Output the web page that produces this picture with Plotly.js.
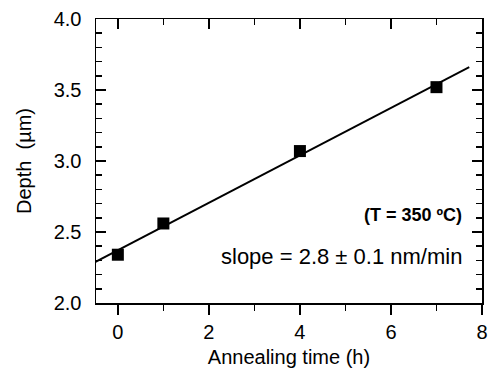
<!DOCTYPE html>
<html>
<head>
<meta charset="utf-8">
<script src="https://cdn.plot.ly/plotly-3.0.1.min.js"></script>
<style>html,body{margin:0;padding:0;background:#fff;}#chart{width:493px;height:371px;}</style>
</head>
<body>
<div id="chart"></div>
<script>
// Data
const annealingTime = [0, 1, 4, 7];          // h
const depth = [2.34, 2.56, 3.07, 3.52];     // µm
const fitRange = [-0.5, 7.72];               // extent of the drawn fit line (h)
const xTickVals = [0, 2, 4, 6, 8];
const yTickVals = [2.0, 2.5, 3.0, 3.5, 4.0];
const tempLabel = '(T = 350 ºC)';
const slopeLabel = 'slope = 2.8 ± 0.1 nm/min';

// least-squares fit of the data
const n = annealingTime.length;
const mx = annealingTime.reduce((a, b) => a + b, 0) / n;
const my = depth.reduce((a, b) => a + b, 0) / n;
let sxy = 0, sxx = 0;
for (let i = 0; i < n; i++) { sxy += (annealingTime[i] - mx) * (depth[i] - my); sxx += (annealingTime[i] - mx) ** 2; }
const slope = sxy / sxx, icpt = my - slope * mx;
const fitX = fitRange;
const fitY = fitRange.map(x => icpt + slope * x);

const font = 'Arial, "Liberation Sans", sans-serif';
const traces = [
  {x: fitX, y: fitY, mode: 'lines', line: {color: '#000', width: 1.8}, hoverinfo: 'skip', showlegend: false},
  {x: annealingTime, y: depth, mode: 'markers', marker: {symbol: 'square', size: 12, color: '#000'}, showlegend: false},
  {x: [0], y: [3], xaxis: 'x2', mode: 'markers', marker: {opacity: 0}, hoverinfo: 'skip', showlegend: false}
];
const xRange = [-0.48, 8];
const layout = {
  width: 493, height: 371,
  margin: {l: 96, r: 11, t: 19, b: 68},
  paper_bgcolor: '#fff', plot_bgcolor: '#fff',
  font: {family: font, color: '#000', size: 20},
  showlegend: false,
  xaxis: {
    range: xRange, showgrid: false, zeroline: false,
    showline: true, linecolor: '#000', linewidth: 1.5, mirror: true,
    ticks: 'outside', ticklen: 10, tickwidth: 1.5, tickcolor: '#000',
    tickvals: xTickVals, ticktext: xTickVals.map(String),
    minor: {dtick: 1, tick0: 0, ticks: 'outside', ticklen: 6, tickwidth: 1.5, tickcolor: '#000', showgrid: false},
    tickfont: {size: 20},
    title: {text: 'Annealing time (h)', font: {size: 20}, standoff: 8}
  },
  xaxis2: {
    overlaying: 'x', side: 'top', matches: 'x', range: xRange,
    showgrid: false, zeroline: false, showline: true, linecolor: '#000', linewidth: 1.5,
    ticks: 'inside', ticklen: 10, tickwidth: 1.5, tickcolor: '#000',
    tickvals: xTickVals, showticklabels: false,
    minor: {dtick: 1, tick0: 0, ticks: 'inside', ticklen: 6, tickwidth: 1.5, tickcolor: '#000', showgrid: false}
  },
  yaxis: {
    range: [2.0, 4.0], showgrid: false, zeroline: false,
    showline: true, linecolor: '#000', linewidth: 1.5, mirror: 'ticks',
    ticks: 'inside', ticklen: 10, tickwidth: 1.5, tickcolor: '#000',
    tickvals: yTickVals, ticktext: yTickVals.map(v => v.toFixed(1)),
    ticklabelstandoff: 9,
    minor: {dtick: 0.1, tick0: 2, ticks: 'inside', ticklen: 6, tickwidth: 1.5, tickcolor: '#000', showgrid: false},
    tickfont: {size: 20},
    title: {text: 'Depth  (µm)', font: {size: 20}, standoff: 16}
  },
  annotations: [
    {xref: 'paper', yref: 'paper', x: 0.953, y: 0.31, xanchor: 'right', yanchor: 'middle',
     text: '<b>' + tempLabel + '</b>', showarrow: false, font: {size: 18}},
    {xref: 'paper', yref: 'paper', x: 0.953, y: 0.165, xanchor: 'right', yanchor: 'middle',
     text: slopeLabel, showarrow: false, font: {size: 22}}
  ]
};
Plotly.newPlot('chart', traces, layout, {displayModeBar: false, staticPlot: true});
</script>
</body>
</html>
